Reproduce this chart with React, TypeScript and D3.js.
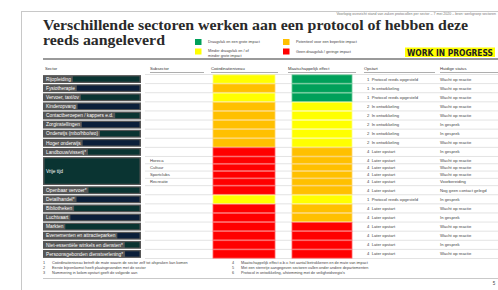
import React from "react";
import * as d3 from "d3";

const titleLines = ["Verschillende sectoren werken aan een protocol of hebben deze", "reeds aangeleverd"];
const topNote = "Voorlopig overzicht stand van zaken protocollen per sector  –  7 mei 2020  –  bron: werkgroep sectoren";
const badge = "WORK IN PROGRESS";
const legendColors = ["green", "yellow", "orange", "red"];
const legendLabels = [
  ["Draagvlak en een grote impact"],
  ["Minder draagvlak en / of", "minder grote impact"],
  ["Potentieel voor een beperkte impact"],
  ["Geen draagvlak / geringe impact"],
];
const headers = ["Sector", "Subsector", "Coördinatieniveau", "Maatschappelijk effect", "Opstart", "Huidige status"];

const rowSector = [
  "Rijopleiding", "Fysiotherapie", "Vervoer, taxi/ov", "Kinderopvang", "Contactberoepen / kappers e.d.",
  "Zorginstellingen", "Onderwijs (mbo/hbo/wo)", "Hoger onderwijs", "Landbouw/visserij*",
  "Vrije tijd", "Vrije tijd", "Vrije tijd", "Vrije tijd",
  "Openbaar vervoer*", "Detailhandel*", "Bibliotheken", "Luchtvaart", "Markten",
  "Evenementen en attractieparken", "Niet-essentiële winkels en diensten*", "Persoonsgebonden dienstverlening*",
];
const rowSubsector = ["", "", "", "", "", "", "", "", "", "Horeca", "Cultuur", "Sportclubs", "Recreatie", "", "", "", "", "", "", "", ""];
const coordLevel = ["yellow", "orange", "yellow", "orange", "orange", "orange", "orange", "orange", "red", "red", "red", "red", "red", "red", "yellow", "red", "red", "red", "red", "red", "red"];
const effectLevel = ["green", "green", "green", "yellow", "yellow", "yellow", "yellow", "yellow", "orange", "orange", "orange", "orange", "orange", "orange", "yellow", "orange", "orange", "red", "red", "red", "red"];
const opstart = [
  "1  Protocol reeds opgesteld", "1  In ontwikkeling", "1  Protocol reeds opgesteld", "2  In ontwikkeling", "2  In ontwikkeling",
  "2  In ontwikkeling", "2  In ontwikkeling", "2  In ontwikkeling", "4  Later opstart", "4  Later opstart",
  "4  Later opstart", "4  Later opstart", "4  Later opstart", "4  Later opstart", "1  Protocol reeds opgesteld",
  "4  Later opstart", "4  Later opstart", "4  Later opstart", "4  Later opstart", "4  Later opstart", "4  Later opstart",
];
const status = [
  "Wacht op reactie", "Wacht op reactie", "Wacht op reactie", "Wacht op reactie", "Wacht op reactie",
  "In gesprek", "In gesprek", "Wacht op reactie", "In gesprek", "Wacht op reactie",
  "Wacht op reactie", "Wacht op reactie", "Voorbereiding", "Nog geen contact gelegd", "In gesprek",
  "Wacht op reactie", "In gesprek", "Wacht op reactie", "Wacht op reactie", "In gesprek", "Wacht op reactie",
];
const notesLeft = [
  "Coördinatieniveau betreft de mate waarin de sector zelf tot afspraken kan komen",
  "Eerste bijeenkomst heeft plaatsgevonden met de sector",
  "Nummering in kolom opstart geeft de volgorde aan",
];
const notesRight = [
  "Maatschappelijk effect o.b.v. het aantal betrokkenen en de mate van impact",
  "Met een sterretje aangegeven sectoren vallen onder andere departementen",
  "Protocol in ontwikkeling, afstemming met de veiligheidsregio's",
];
const pageNumber = "5";

const fill: Record<string, string> = { green: "#00a05a", yellow: "#ffff00", orange: "#ffc000", red: "#ff0000" };
const edge: Record<string, string> = { green: "#66c995", yellow: "#ffff80", orange: "#ffd566", red: "#ff6060" };

const SANS = "'Liberation Sans', Arial, sans-serif";

let ctx: CanvasRenderingContext2D | null = null;
function measure(t: string, font: string) {
  if (!ctx) ctx = document.createElement("canvas").getContext("2d");
  if (!ctx) return t.length * 2.6;
  ctx.font = font;
  return ctx.measureText(t).width;
}

export default function App() {
  const W = 498, H = 290;
  const weights = rowSector.map((_, i) => (rowSubsector[i] ? 0.8 : 1));
  const cum = [0];
  weights.forEach((w) => cum.push(cum[cum.length - 1] + w));
  const y = d3.scaleLinear().domain([0, cum[cum.length - 1]]).range([74.5, 258.5]);

  const blocks: { name: string; start: number; end: number }[] = [];
  rowSector.forEach((s, i) => {
    const last = blocks[blocks.length - 1];
    if (last && last.name === s) last.end = i;
    else blocks.push({ name: s, start: i, end: i });
  });

  const colX = [45, 150, 211, 288, 364, 440];
  const colEnd = [141, 204, 278, 356, 435, 498];

  return (
    <svg width={W} height={H} style={{ position: "absolute", left: 0, top: 0, background: "#fff" }}>
      <rect x={0} y={0} width={W} height={H} fill="#fff" />
      <line x1={21.5} y1={11} x2={21.5} y2={H} stroke="#c8c8c8" />
      <line x1={21} y1={11.5} x2={W} y2={11.5} stroke="#c8c8c8" />
      <text x={W - 2} y={15} fontSize={3.6} fill="#777" textAnchor="end" fontFamily={SANS}>{topNote}</text>

      {titleLines.map((t, i) => (
        <text key={i} x={43} y={30 + i * 15} style={{ fontFamily: "'Liberation Serif', 'DejaVu Serif', serif", fontWeight: 700 }} fontSize={14}
          fill="#2a2a2a" textLength={i === 0 ? 425 : 122} lengthAdjust="spacingAndGlyphs">{t}</text>
      ))}

      {legendColors.map((c, i) => {
        const lx = i < 2 ? 195 : 283;
        const ly = i % 2 === 0 ? 39 : 48.5;
        return (
          <g key={c}>
            <rect x={lx} y={ly} width={6.5} height={6} fill={fill[c]} />
            {legendLabels[i].map((l, j) => (
              <text key={j} x={lx + 13} y={ly + 4.2 + j * 5 - (legendLabels[i].length > 1 ? 1 : 0)} fontSize={3.8} fill="#444" fontFamily={SANS}>{l}</text>
            ))}
          </g>
        );
      })}
      <rect x={405} y={47.5} width={90} height={9.5} fill="#ffff00" />
      <text x={407} y={55.5} fontSize={8.5} fontWeight="bold" fontFamily="'DejaVu Sans Condensed', 'DejaVu Sans', sans-serif" fill="#222"
        textLength={86} lengthAdjust="spacingAndGlyphs">{badge}</text>

      <line x1={43} x2={W} y1={59} y2={59} stroke="#9a9a9a" strokeWidth={1.8} />

      {headers.map((h, i) => (
        <g key={h}>
          <text x={colX[i]} y={70} fontSize={4.2} fill="#333" fontFamily={SANS}>{h}</text>
          {i > 0 && <line x1={colX[i]} x2={colEnd[i]} y1={72.5} y2={72.5} stroke="#999" strokeWidth={0.8} />}
        </g>
      ))}

      {cum.map((c, i) => (
        <line key={i} x1={145} x2={W} y1={y(c)} y2={y(c)} stroke="#dcdcdc" strokeWidth={0.8} />
      ))}

      {rowSector.map((_, i) => {
        const top = y(cum[i]), bot = y(cum[i + 1]);
        return (
          <g key={i}>
            <rect x={213} y={top + 0.4} width={62} height={bot - top - 0.8} fill={fill[coordLevel[i]]} stroke={edge[coordLevel[i]]} strokeWidth={0.8} />
            <rect x={292} y={top + 0.4} width={60} height={bot - top - 0.8} fill={fill[effectLevel[i]]} stroke={edge[effectLevel[i]]} strokeWidth={0.8} />
            {rowSubsector[i] && (
              <text x={150} y={(top + bot) / 2 + 1.5} fontSize={4.2} fill="#444" fontFamily={SANS}>{rowSubsector[i]}</text>
            )}
            <text x={367} y={(top + bot) / 2 + 1.5} fontSize={4.2} fill="#444" fontFamily={SANS} xmlSpace="preserve">{opstart[i]}</text>
            <text x={440} y={(top + bot) / 2 + 1.5} fontSize={4.2} fill="#444" fontFamily={SANS}>{status[i]}</text>
          </g>
        );
      })}

      {blocks.map((b, k) => {
        const top = y(cum[b.start]) + 0.6;
        const bot = y(cum[b.end + 1]) - 0.6;
        const multi = b.end > b.start;
        const font = `4.8px ${SANS}`;
        const tw = measure(b.name, font);
        const dark = k % 2 === 0 ? "#0a3432" : "#0b1f3a";
        const ix = multi ? 44.5 : Math.min(46 + tw + 2, 138);
        return (
          <g key={k}>
            <rect x={43} y={top} width={98} height={bot - top} fill="#555" />
            <rect x={ix} y={top + 1.3} width={139.5 - ix} height={bot - top - 2.6} fill={multi ? "#0a3432" : dark} />
            <text x={46} y={(top + bot) / 2 + 1.7} fontSize={4.8} fill="#fff" fontFamily={SANS}>{b.name}</text>
          </g>
        );
      })}

      {notesLeft.map((n, i) => (
        <g key={"l" + i}>
          <text x={43} y={264 + i * 5} fontSize={3.8} fill="#444" fontFamily={SANS}>{i + 1}</text>
          <text x={52} y={264 + i * 5} fontSize={3.8} fill="#444" fontFamily={SANS}>{n}</text>
        </g>
      ))}
      {notesRight.map((n, i) => (
        <g key={"r" + i}>
          <text x={232} y={264 + i * 5} fontSize={3.8} fill="#444" fontFamily={SANS}>{i + 4}</text>
          <text x={241} y={264 + i * 5} fontSize={3.8} fill="#444" fontFamily={SANS}>{n}</text>
        </g>
      ))}
      <line x1={43} x2={W} y1={278.5} y2={278.5} stroke="#bbb" strokeWidth={0.8} />
      <text x={494} y={285} fontSize={4.5} fill="#444" textAnchor="middle" fontFamily={SANS}>{pageNumber}</text>
    </svg>
  );
}
